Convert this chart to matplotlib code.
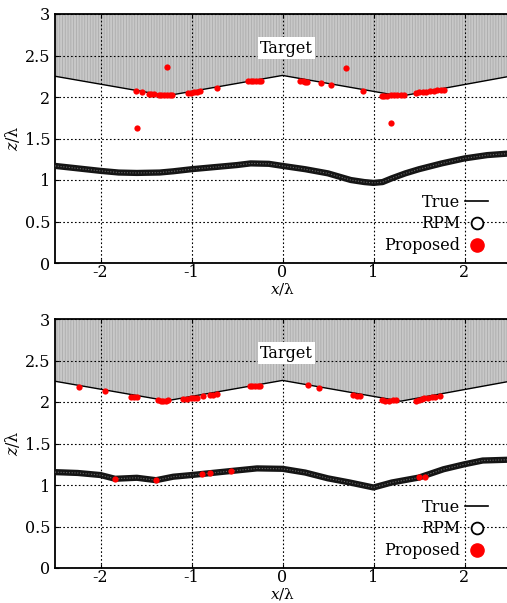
import matplotlib
matplotlib.use('Agg')
import matplotlib.pyplot as plt
from matplotlib.lines import Line2D

# true target surface (same in both panels)
true_x = [-2.5, -1.27, 0.0, 1.3, 2.5]
true_z = [2.25, 2.015, 2.26, 2.01, 2.25]

# RPM reconstruction, top panel
rpm1_x = [-2.5, -2.25, -2.0, -1.8, -1.6, -1.35, -1.2, -1.0, -0.75, -0.5, -0.35, -0.15, 0.0,
          0.25, 0.5, 0.75, 0.9, 1.0, 1.1, 1.2, 1.35, 1.5, 1.75, 2.0, 2.25, 2.5]
rpm1_z = [1.17, 1.14, 1.11, 1.09, 1.085, 1.09, 1.105, 1.13, 1.155, 1.18, 1.20, 1.195, 1.17,
          1.13, 1.08, 1.0, 0.975, 0.965, 0.975, 1.02, 1.08, 1.13, 1.20, 1.26, 1.30, 1.32]

# RPM reconstruction, bottom panel
rpm2_x = [-2.5, -2.25, -2.0, -1.84, -1.6, -1.39, -1.2, -1.0, -0.58, -0.28, 0.0, 0.25, 0.5,
          0.74, 1.0, 1.2, 1.5, 1.77, 2.0, 2.2, 2.5]
rpm2_z = [1.155, 1.145, 1.12, 1.075, 1.087, 1.058, 1.10, 1.12, 1.167, 1.20, 1.195, 1.15, 1.08,
          1.03, 0.97, 1.03, 1.09, 1.19, 1.25, 1.295, 1.305]

# proposed method, top panel
prop1_x = [-1.61, -1.54, -1.47, -1.44, -1.41, -1.36, -1.33, -1.30, -1.27, -1.24, -1.21, -1.27,
           -1.60, -1.04, -1.01, -0.97, -0.94, -0.91, -0.72, -0.38, -0.35, -0.32, -0.29, -0.26,
           -0.24, 0.19, 0.22, 0.25, 0.27, 0.42, 0.53, 0.70, 0.88, 1.09, 1.12, 1.15, 1.19, 1.22,
           1.26, 1.30, 1.34, 1.19, 1.47, 1.50, 1.54, 1.58, 1.62, 1.66, 1.70, 1.74, 1.77]
prop1_z = [2.076, 2.057, 2.04, 2.036, 2.034, 2.02, 2.02, 2.02, 2.02, 2.02, 2.022, 2.36,
           1.627, 2.05, 2.05, 2.055, 2.06, 2.07, 2.105, 2.19, 2.19, 2.19, 2.19, 2.19,
           2.19, 2.19, 2.19, 2.185, 2.18, 2.17, 2.14, 2.345, 2.068, 2.016, 2.015, 2.015, 2.02, 2.02,
           2.025, 2.028, 2.03, 1.69, 2.05, 2.055, 2.06, 2.065, 2.07, 2.075, 2.08, 2.085, 2.09]

# proposed method, bottom panel
prop2_x = [-2.24, -1.95, -1.66, -1.63, -1.60, -1.37, -1.34, -1.31, -1.28, -1.26, -1.09, -1.05,
           -1.01, -0.97, -0.94, -0.87, -0.80, -0.76, -0.72, -0.36, -0.33, -0.30, -0.27, -0.25,
           0.28, 0.40, 0.78, 0.82, 0.85, 1.09, 1.13, 1.17, 1.21, 1.25, 1.47, 1.50, 1.53, 1.56,
           1.60, 1.64, 1.68, 1.73, -1.84, -1.39, -0.88, -0.80, -0.57, 1.50, 1.57]
prop2_z = [2.18, 2.127, 2.065, 2.063, 2.06, 2.02, 2.015, 2.013, 2.015, 2.02, 2.04, 2.04,
           2.045, 2.045, 2.05, 2.07, 2.085, 2.09, 2.095, 2.195, 2.195, 2.195, 2.195, 2.195,
           2.20, 2.17, 2.08, 2.078, 2.075, 2.02, 2.018, 2.018, 2.02, 2.022, 2.01, 2.025, 2.035, 2.045,
           2.05, 2.058, 2.065, 2.07, 1.075, 1.058, 1.13, 1.14, 1.167, 1.094, 1.10]

xticks = [-2, -1, 0, 1, 2]
yticks = [0, 0.5, 1, 1.5, 2, 2.5, 3]
ytick_labels = ['0', '0.5', '1', '1.5', '2', '2.5', '3']

plt.rcParams['font.family'] = ['DejaVu Serif']
plt.rcParams['mathtext.fontset'] = 'dejavuserif'
plt.rcParams['hatch.linewidth'] = 0.6
fontSize = 11.5

fig = plt.figure(figsize=(5.07, 6.03), dpi=100)
ax1 = fig.add_axes([55/507, 1 - 263/603, 455/507, 249/603])
ax2 = fig.add_axes([55/507, 1 - 568/603, 455/507, 249/603])


def panel(ax, rx, rz, px, pz):
    ax.fill_between(true_x, true_z, 3, facecolor='#c8c8c8', edgecolor='#acacac',
                    hatch='||||||', linewidth=0, zorder=1)
    ax.plot(true_x, true_z, color='black', linewidth=1, zorder=2)
    ax.plot(rx, rz, color='#151515', linewidth=4.5, solid_capstyle='round',
            solid_joinstyle='round', zorder=3)
    ax.plot(rx, rz, color='#6a6a6a', linewidth=0.8, linestyle=(0, (1, 1.5)), zorder=3)
    ax.plot(px, pz, 'o', color='red', markersize=4.5, markeredgewidth=0, zorder=4)
    ax.text(0.045, 2.59, 'Target', ha='center', va='center', fontsize=fontSize,
            bbox=dict(facecolor='white', edgecolor='none', pad=1.5), zorder=5)
    ax.set_xlim(-2.5, 2.5)
    ax.set_ylim(0, 3)
    ax.set_xticks(xticks)
    ax.set_xticklabels([str(t) for t in xticks])
    ax.set_yticks(yticks)
    ax.set_yticklabels(ytick_labels)
    ax.tick_params(direction='in', top=True, right=True, length=3, labelsize=fontSize)
    ax.tick_params(axis='x', pad=1)
    ax.grid(True, color='black', linestyle=(0, (1.5, 2)), linewidth=0.8)
    ax.set_axisbelow(False)
    for s in ax.spines.values():
        s.set_linewidth(1.3)
    ax.set_xlabel(r'$x$/λ', fontsize=11, labelpad=-0.5)
    ax.set_ylabel(r'$z$/λ', fontsize=fontSize, labelpad=2)
    handles = [Line2D([], [], color='black', linewidth=1.2),
               Line2D([], [], linestyle='none', marker='o', markersize=8.5, markerfacecolor='white',
                      markeredgecolor='black', markeredgewidth=1.3),
               Line2D([], [], linestyle='none', marker='o', markersize=9.5, color='red')]
    leg = ax.legend(handles, ['True', 'RPM', 'Proposed'], loc='lower right',
                    bbox_to_anchor=(0.965, 0.01), frameon=False, markerfirst=False,
                    fontsize=fontSize, handlelength=1.4, handletextpad=0.3,
                    labelspacing=0.3, borderaxespad=0)
    leg.set_zorder(6)


panel(ax1, rpm1_x, rpm1_z, prop1_x, prop1_z)
panel(ax2, rpm2_x, rpm2_z, prop2_x, prop2_z)

plt.savefig('out.png', dpi=100)
